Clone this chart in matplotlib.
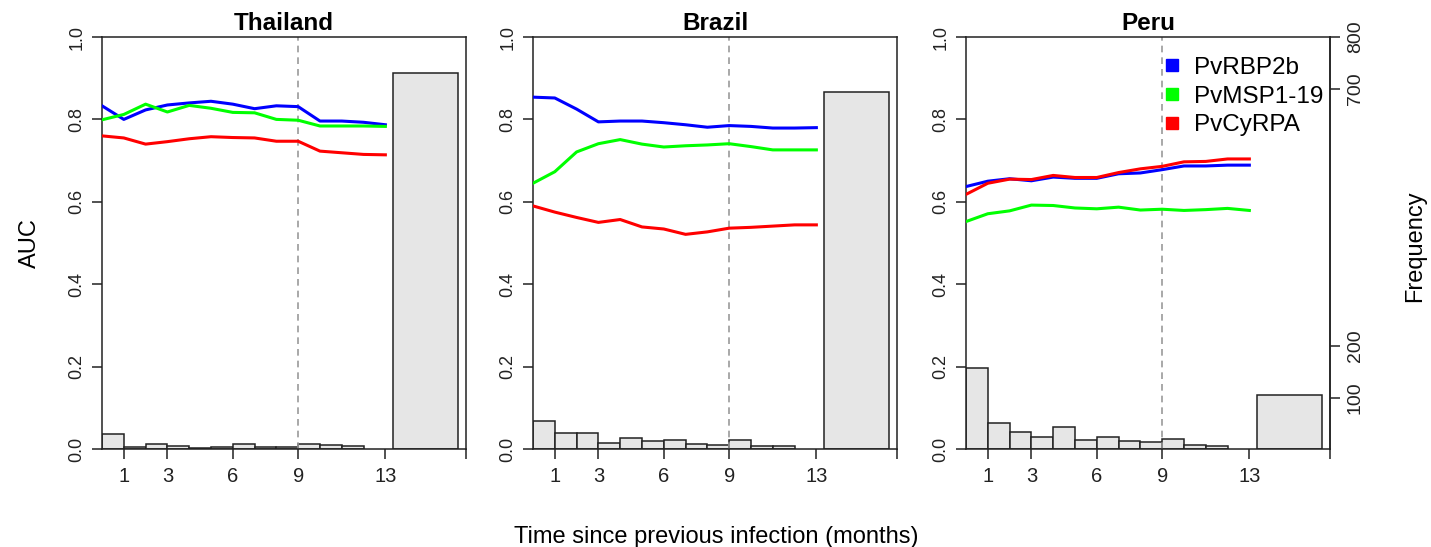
import matplotlib
matplotlib.use('Agg')
import matplotlib.pyplot as plt
from matplotlib.lines import Line2D

plt.rcParams['font.family'] = ['Liberation Sans', 'DejaVu Sans']

months = [0, 1, 2, 3, 4, 5, 6, 7, 8, 9, 10, 11, 12, 13]
antigens = ['PvRBP2b', 'PvMSP1-19', 'PvCyRPA']
colours = ['#0000FF', '#00FF00', '#FF0000']
countries = ['Thailand', 'Brazil', 'Peru']

# AUC per month, one list per antigen
thai_rbp = [0.833, 0.800, 0.823, 0.835, 0.840, 0.844, 0.837, 0.826, 0.833, 0.831, 0.796, 0.796, 0.793, 0.787]
thai_msp = [0.799, 0.812, 0.837, 0.818, 0.834, 0.827, 0.817, 0.816, 0.800, 0.798, 0.784, 0.784, 0.784, 0.783]
thai_cyr = [0.760, 0.755, 0.740, 0.746, 0.753, 0.758, 0.756, 0.755, 0.747, 0.747, 0.723, 0.719, 0.715, 0.714]

braz_rbp = [0.854, 0.852, 0.825, 0.794, 0.796, 0.796, 0.792, 0.787, 0.781, 0.785, 0.783, 0.779, 0.779, 0.780]
braz_msp = [0.645, 0.673, 0.721, 0.741, 0.751, 0.740, 0.733, 0.736, 0.738, 0.741, 0.734, 0.726, 0.726, 0.726]
braz_cyr = [0.590, 0.575, 0.562, 0.550, 0.557, 0.539, 0.534, 0.521, 0.527, 0.536, 0.538, 0.541, 0.544, 0.544]

peru_rbp = [0.637, 0.650, 0.656, 0.651, 0.660, 0.657, 0.657, 0.668, 0.670, 0.678, 0.687, 0.687, 0.689, 0.689]
peru_msp = [0.552, 0.571, 0.578, 0.592, 0.591, 0.585, 0.583, 0.587, 0.580, 0.582, 0.579, 0.581, 0.584, 0.579]
peru_cyr = [0.618, 0.645, 0.655, 0.654, 0.664, 0.659, 0.659, 0.671, 0.680, 0.686, 0.697, 0.698, 0.704, 0.704]

# histogram of time since previous infection (monthly bins 0-12) and the >13 month bin
thai_freq = [30, 4, 10, 5, 2, 3, 10, 3, 3, 9, 8, 6]
braz_freq = [55, 31, 32, 11, 22, 16, 17, 10, 8, 17, 5, 5]
peru_freq = [157, 50, 33, 23, 43, 17, 23, 16, 13, 20, 7, 5]
late_freq = [730, 693, 104]

bin_left = [0, 1, 2, 3, 4, 5, 6, 7, 8, 9, 10, 11]
late_left = 13.33
late_width = 3.0
x_max = 16.7
freq_max = 800

tick_pos = [1, 3, 6, 9, 13]
freq_ticks = [100, 200, 700, 800]

auc_all = [[thai_rbp, thai_msp, thai_cyr],
           [braz_rbp, braz_msp, braz_cyr],
           [peru_rbp, peru_msp, peru_cyr]]
freq_all = [thai_freq, braz_freq, peru_freq]

fig = plt.figure(figsize=(14.31, 5.47), dpi=100)
lefts = [102, 533, 966]
axes_w = 364
for k in range(3):
    ax = fig.add_axes([lefts[k]/1431, 98/547, axes_w/1431, 412/547])
    # histogram drawn in frequency units on a twin axis
    hx = ax.twinx()
    hx.set_zorder(0)
    ax.set_zorder(1)
    ax.patch.set_visible(False)
    hx.bar(bin_left, freq_all[k], width=1, align='edge', color='#E6E6E6',
           edgecolor='#222222', linewidth=1.1)
    hx.bar([late_left], [late_freq[k]], width=late_width, align='edge',
           color='#E6E6E6', edgecolor='#222222', linewidth=1.1)
    hx.set_ylim(0, freq_max)
    for s in hx.spines.values():
        s.set_visible(False)
    if k == 2:
        hx.spines['right'].set_visible(True)
        hx.spines['right'].set_color('#222222')
        hx.spines['right'].set_linewidth(1.1)
        hx.set_yticks(freq_ticks)
        hx.set_yticklabels([str(t) for t in freq_ticks], rotation=90, va='center')
        hx.tick_params(axis='y', length=7, width=1.1, colors='#222222',
                       labelsize=14, pad=5)
    else:
        hx.set_yticks([])

    ax.axvline(9, color='#999999', linestyle=(0, (4, 3)), linewidth=1.2, zorder=1)
    for a in range(3):
        ax.plot(months, auc_all[k][a], color=colours[a], linewidth=2.2, zorder=3)

    ax.set_xlim(0, x_max)
    ax.set_ylim(0, 1)
    ax.set_xticks(tick_pos + [x_max])
    ax.set_xticklabels([str(t) for t in tick_pos] + [''])
    ax.set_yticks([0, 0.2, 0.4, 0.6, 0.8, 1.0])
    ax.set_yticklabels(['0.0', '0.2', '0.4', '0.6', '0.8', '1.0'], rotation=90)
    for lab in ax.get_yticklabels():
        lab.set_va('center')
    ax.tick_params(axis='x', length=7, width=1.1, colors='#222222', labelsize=14.5, pad=6)
    ax.tick_params(axis='y', length=7, width=1.1, colors='#222222', labelsize=13, pad=5)
    for s in ax.spines.values():
        s.set_color('#222222')
        s.set_linewidth(1.1)
    ax.set_title(countries[k], fontsize=17.5, fontweight='bold', pad=5)

    if k == 2:
        handles = [Line2D([], [], marker='s', linestyle='none', markersize=8,
                          color=c) for c in colours]
        ax.legend(handles, antigens, loc='upper left', bbox_to_anchor=(0.54, 0.952),
                  frameon=False, fontsize=17.5, handlelength=0.8, handletextpad=0.5,
                  labelspacing=0.28, borderpad=0, borderaxespad=0)

fig.text(30/1431, 0.556, 'AUC', rotation=90, fontsize=17, ha='center', va='center')
fig.text(1415/1431, 0.55, 'Frequency', rotation=90, fontsize=17, ha='center', va='center')
fig.text(0.5007, 10/547, 'Time since previous infection (months)', fontsize=17,
         ha='center', va='center')

fig.savefig('out.png', dpi=100)
